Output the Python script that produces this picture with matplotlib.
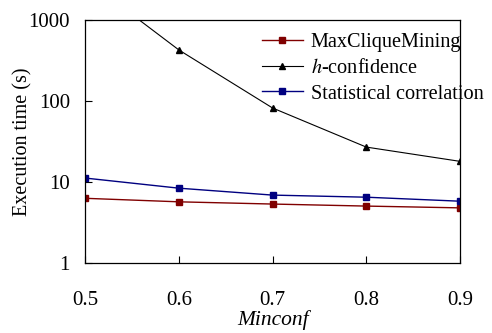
import matplotlib
matplotlib.use("Agg")
import matplotlib.pyplot as plt
from matplotlib.ticker import FixedLocator, NullLocator

minconf = [0.5, 0.6, 0.7, 0.8, 0.9]
max_clique = [6.3, 5.7, 5.35, 5.05, 4.8]
h_conf = [3200, 427, 82, 27, 18]
stat_corr = [11.2, 8.4, 6.9, 6.5, 5.8]
x_ticks = [0.5, 0.6, 0.7, 0.8, 0.9]
y_ticks = [1, 10, 100, 1000]
y_labels = ["1", "10", "100", "1000"]

plt.rcParams["font.family"] = ["Liberation Serif", "DejaVu Serif"]
plt.rcParams["mathtext.fontset"] = "stix"

fig = plt.figure(figsize=(4.92, 3.33), dpi=100)
ax = fig.add_axes([0.173, 0.21, 0.762, 0.73])

ax.plot(minconf, max_clique, color="#800000", marker="s", ms=4, lw=1,
        label="MaxCliqueMining")
ax.plot(minconf, h_conf, color="black", marker="^", ms=4, lw=0.8,
        label="$h$-confidence")
ax.plot(minconf, stat_corr, color="#000080", marker="s", ms=4, lw=1,
        label="Statistical correlation")

ax.set_yscale("log")
ax.set_ylim(1, 1000)
ax.set_xlim(0.5, 0.9)
ax.yaxis.set_major_locator(FixedLocator(y_ticks))
ax.yaxis.set_minor_locator(NullLocator())
ax.set_yticklabels(y_labels)
ax.set_xticks(x_ticks)
ax.set_xticklabels([f"{v:.1f}" for v in x_ticks])
ax.tick_params(axis="x", direction="in", length=5, pad=20, labelsize=15)
ax.tick_params(axis="y", direction="in", length=5, pad=11, labelsize=15)

for sp in ax.spines.values():
    sp.set_linewidth(0.9)

ax.set_xlabel("Minconf", fontstyle="italic", fontsize=15.5, labelpad=0.5)
ax.set_ylabel("Execution time (s)", fontsize=14.5, labelpad=-3)

ax.legend(loc="upper right", frameon=False, fontsize=14.6, handlelength=2.0,
          handletextpad=0.4, labelspacing=0.33, borderaxespad=0.1,
          bbox_to_anchor=(1.09, 0.99))

fig.savefig("out.png", dpi=100)
